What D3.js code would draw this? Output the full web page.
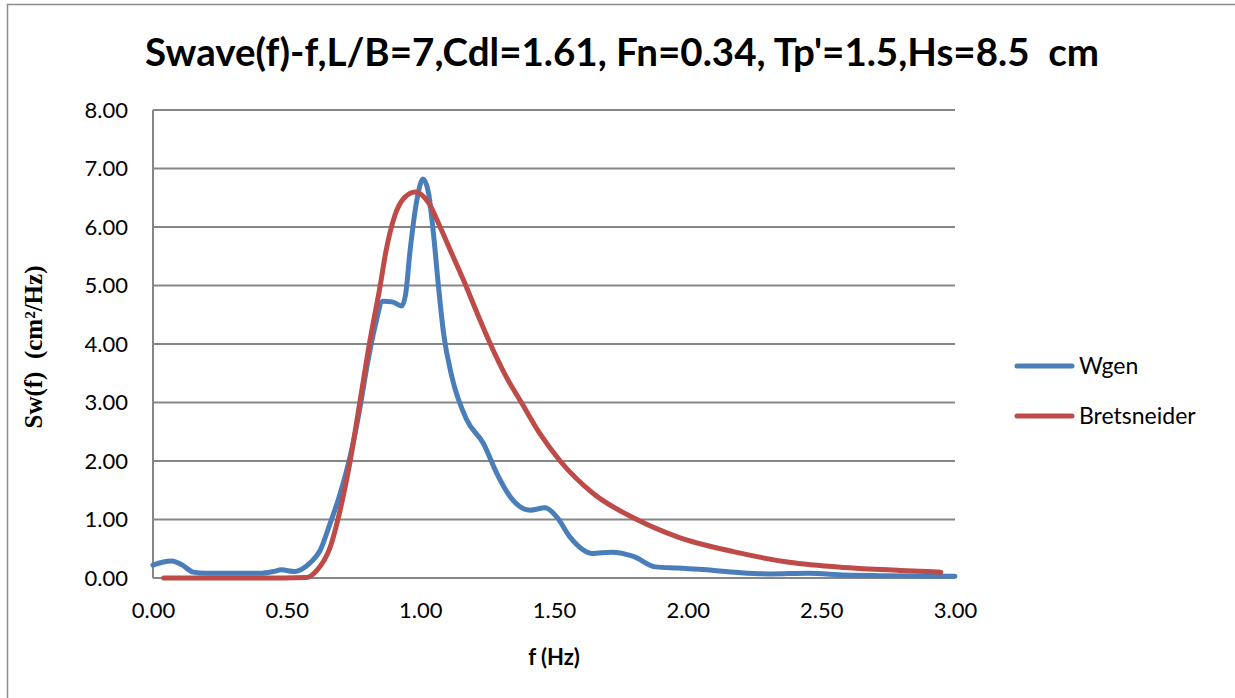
<!DOCTYPE html>
<html>
<head>
<meta charset="utf-8">
<script src="https://cdn.jsdelivr.net/npm/d3@7"></script>
<style>
  body { margin: 0; background: #fff; }
  svg { display: block; }
</style>
</head>
<body>
<div id="chart"></div>
<script>
// Wgen measured spectrum
const wgenF = [0.00, 0.035, 0.07, 0.11, 0.15, 0.20, 0.30, 0.40, 0.45, 0.48, 0.53, 0.56, 0.59, 0.625, 0.66, 0.70, 0.74, 0.775, 0.80, 0.83, 0.86, 0.895, 0.93, 0.945, 0.962, 0.987, 1.01, 1.03, 1.049, 1.068, 1.087, 1.118, 1.174, 1.236, 1.286, 1.336, 1.41, 1.467, 1.511, 1.56, 1.645, 1.714, 1.797, 1.88, 1.964, 2.10, 2.20, 2.31, 2.45, 2.59, 2.73, 3.00];
const wgenS = [0.22, 0.27, 0.29, 0.22, 0.10, 0.08, 0.08, 0.08, 0.11, 0.14, 0.11, 0.16, 0.27, 0.47, 0.90, 1.44, 2.13, 2.93, 3.61, 4.29, 4.73, 4.72, 4.65, 4.85, 5.61, 6.46, 6.82, 6.60, 5.89, 4.98, 4.18, 3.44, 2.70, 2.30, 1.79, 1.39, 1.16, 1.20, 1.04, 0.70, 0.42, 0.44, 0.37, 0.19, 0.17, 0.13, 0.09, 0.07, 0.08, 0.05, 0.04, 0.03];

// Bretsneider spectrum
const bretF = [0.04, 0.2, 0.4, 0.576, 0.613, 0.663, 0.70, 0.738, 0.775, 0.812, 0.85, 0.87, 0.905, 0.94, 0.981, 1.03, 1.074, 1.12, 1.17, 1.215, 1.262, 1.32, 1.378, 1.45, 1.523, 1.648, 1.81, 1.964, 2.171, 2.379, 2.587, 2.795, 2.947];
const bretS = [0.00, 0.00, 0.00, 0.01, 0.13, 0.53, 1.16, 2.01, 3.04, 4.07, 5.00, 5.55, 6.20, 6.50, 6.60, 6.42, 6.00, 5.52, 5.00, 4.50, 4.00, 3.45, 3.00, 2.45, 2.00, 1.44, 1.00, 0.70, 0.45, 0.27, 0.18, 0.13, 0.10];

const xTicks = [0, 0.5, 1, 1.5, 2, 2.5, 3];
const yTicks = [0, 1, 2, 3, 4, 5, 6, 7, 8];
const seriesNames = ["Wgen", "Bretsneider"];
const seriesColors = ["#4a7ebb", "#be4b48"];

const W = 1235, H = 698;
const plot = { left: 153, right: 955, top: 110, bottom: 578 };

const svg = d3.select("#chart").append("svg")
  .attr("width", W)
  .attr("height", H);

svg.append("rect").attr("width", W).attr("height", H).attr("fill", "#fff");

// outer chart frame (only top and left edges are in view)
svg.append("path")
  .attr("d", `M7.5,${H} V4.5 H${W}`)
  .attr("fill", "none")
  .attr("stroke", "#8c8c8c")
  .attr("stroke-width", 1.5);

const x = d3.scaleLinear().domain([0, 3]).range([plot.left, plot.right]);
const y = d3.scaleLinear().domain([0, 8]).range([plot.bottom, plot.top]);

// gridlines
svg.append("g")
  .selectAll("line")
  .data(yTicks)
  .join("line")
  .attr("x1", plot.left)
  .attr("x2", plot.right)
  .attr("y1", d => y(d))
  .attr("y2", d => y(d))
  .attr("stroke", "#868686")
  .attr("stroke-width", 2);

// y axis line
svg.append("line")
  .attr("x1", plot.left).attr("x2", plot.left)
  .attr("y1", plot.top).attr("y2", plot.bottom)
  .attr("stroke", "#868686")
  .attr("stroke-width", 2);

// tick labels
const yAxis = svg.append("g")
  .attr("transform", `translate(${plot.left},0)`)
  .call(d3.axisLeft(y).tickValues(yTicks).tickFormat(d3.format(".2f")).tickSize(0).tickPadding(25));
yAxis.select(".domain").remove();
yAxis.selectAll("text")
  .attr("font-family", "Lato, sans-serif")
  .attr("font-size", 22)
  .attr("fill", "#000");

const xAxis = svg.append("g")
  .attr("transform", `translate(0,${plot.bottom})`)
  .call(d3.axisBottom(x).tickValues(xTicks).tickFormat(d3.format(".2f")).tickSize(0).tickPadding(24));
xAxis.select(".domain").remove();
xAxis.selectAll("text")
  .attr("font-family", "Lato, sans-serif")
  .attr("font-size", 22)
  .attr("fill", "#000");

// series
const line = d3.line()
  .x(d => x(d[0]))
  .y(d => y(d[1]))
  .curve(d3.curveMonotoneX);

const seriesData = [
  d3.zip(wgenF, wgenS),
  d3.zip(bretF, bretS)
];

seriesData.forEach((pts, i) => {
  svg.append("path")
    .datum(pts)
    .attr("fill", "none")
    .attr("stroke", seriesColors[i])
    .attr("stroke-width", 5)
    .attr("stroke-linecap", "round")
    .attr("stroke-linejoin", "round")
    .attr("d", line);
});

// title
svg.append("text")
  .attr("x", 622)
  .attr("y", 66)
  .attr("text-anchor", "middle")
  .attr("font-family", "Lato, sans-serif")
  .attr("font-weight", "bold")
  .attr("font-size", 39)
  .attr("textLength", 954)
  .attr("lengthAdjust", "spacingAndGlyphs")
  .style("white-space", "pre")
  .text("Swave(f)-f,L/B=7,Cdl=1.61, Fn=0.34, Tp'=1.5,Hs=8.5  cm");

// axis titles
svg.append("text")
  .attr("x", (plot.left + plot.right) / 2)
  .attr("y", 665)
  .attr("text-anchor", "middle")
  .attr("font-family", "Lato, sans-serif")
  .attr("font-weight", "bold")
  .attr("font-size", 22)
  .text("f (Hz)");

svg.append("text")
  .attr("transform", `translate(42,347) rotate(-90)`)
  .attr("text-anchor", "middle")
  .attr("font-family", "'Liberation Serif', serif")
  .attr("font-weight", "bold")
  .attr("font-size", 25)
  .style("white-space", "pre")
  .text("Sw(f)  (cm²/Hz)");

// legend
const legend = svg.append("g").attr("transform", "translate(1017,366)");
seriesNames.forEach((name, i) => {
  legend.append("line")
    .attr("x1", 0).attr("x2", 55)
    .attr("y1", i * 50).attr("y2", i * 50)
    .attr("stroke", seriesColors[i])
    .attr("stroke-width", 5)
    .attr("stroke-linecap", "round");
  legend.append("text")
    .attr("x", 62)
    .attr("y", i * 50 + 8)
    .attr("font-family", "Lato, sans-serif")
    .attr("font-size", 23)
    .attr("fill", "#000")
    .text(name);
});
</script>
</body>
</html>
